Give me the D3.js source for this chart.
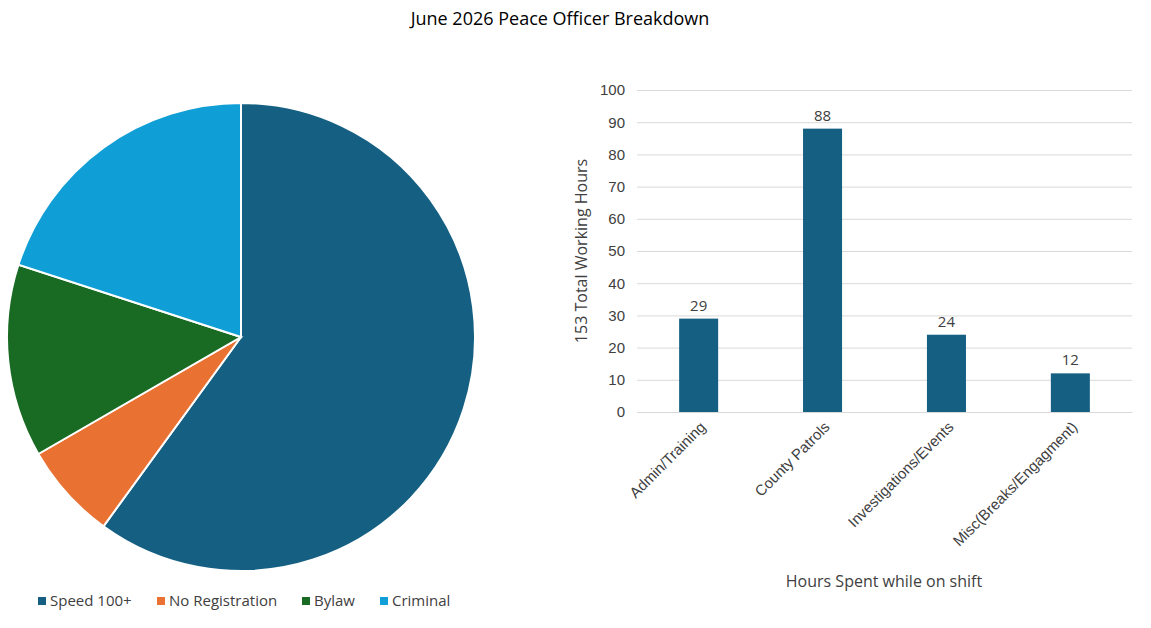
<!DOCTYPE html>
<html><head><meta charset="utf-8">
<script src="https://cdn.jsdelivr.net/npm/d3@7"></script>
<style>body{margin:0;background:#fff;font-family:Aptos,"Open Sans","Liberation Sans",sans-serif}</style>
</head><body><svg width="1151" height="628"></svg>
<script>
var pieCats = ["Speed 100+", "No Registration", "Bylaw", "Criminal"];
var pieVals = [27, 3, 6, 9];
var pieColors = ["#156082", "#E97132", "#196B24", "#0F9ED5"];

var barCats = ["Admin/Training", "County Patrols", "Investigations/Events", "Misc(Breaks/Engagment)"];
var barVals = [29, 88, 24, 12];
var yTicks = [0, 10, 20, 30, 40, 50, 60, 70, 80, 90, 100];

var svg = d3.select("svg");
var txt = "#404040";

svg.append("text").attr("x", 560).attr("y", 25).attr("text-anchor", "middle")
  .attr("font-size", 18).attr("fill", "#000").text("June 2026 Peace Officer Breakdown");

// pie
var pie = d3.pie().sort(null).value(function(d){return d;});
var arc = d3.arc().innerRadius(0).outerRadius(234);
var pg = svg.append("g").attr("transform", "translate(241,337)");
pg.selectAll("path").data(pie(pieVals)).enter().append("path")
  .attr("d", arc).attr("fill", function(d,i){return pieColors[i];})
  .attr("stroke", "#fff").attr("stroke-width", 2);

// legend
var lx = [38, 157, 302, 380];
var lg = svg.selectAll(".lg").data(pieCats).enter().append("g")
  .attr("transform", function(d,i){return "translate(" + lx[i] + ",601)";});
lg.append("rect").attr("x", 0).attr("y", -4).attr("width", 8).attr("height", 8)
  .attr("fill", function(d,i){return pieColors[i];});
lg.append("text").attr("x", 12).attr("y", 5).attr("font-size", 15).attr("fill", txt)
  .text(function(d){return d;});

// bars
var x = d3.scaleBand().domain(barCats).range([637, 1132]).paddingInner(0.685).paddingOuter(0.34);
var y = d3.scaleLinear().domain([0, 100]).range([412, 90]);

var yAxis = svg.append("g").attr("transform", "translate(637,0)")
  .call(d3.axisLeft(y).tickValues(yTicks).tickSize(-495).tickPadding(12));
yAxis.select(".domain").remove();
yAxis.selectAll("line").attr("stroke", "#d9d9d9");
yAxis.selectAll("text").attr("font-size", 15).attr("fill", txt).attr("font-family", "inherit");

svg.selectAll(".bar").data(barVals).enter().append("rect")
  .attr("x", function(d,i){return x(barCats[i]);})
  .attr("y", function(d){return y(d);})
  .attr("width", x.bandwidth())
  .attr("height", function(d){return y(0) - y(d);})
  .attr("fill", "#156082");

svg.selectAll(".lbl").data(barVals).enter().append("text")
  .attr("x", function(d,i){return x(barCats[i]) + x.bandwidth()/2;})
  .attr("y", function(d){return y(d) - 8;})
  .attr("text-anchor", "middle").attr("font-size", 15).attr("fill", txt)
  .text(function(d){return d;});

var xAxis = svg.append("g").attr("transform", "translate(0,412)")
  .call(d3.axisBottom(x).tickSize(0).tickPadding(0));
xAxis.select(".domain").attr("stroke", "#d9d9d9");
xAxis.selectAll("text").attr("font-size", 15).attr("fill", txt).attr("font-family", "inherit")
  .attr("text-anchor", "end").attr("dy", 0)
  .attr("transform", "translate(8,16) rotate(-45)");

svg.append("text").attr("x", 884).attr("y", 587).attr("text-anchor", "middle")
  .attr("font-size", 16).attr("fill", txt).text("Hours Spent while on shift");
svg.append("text").attr("transform", "translate(587,251) rotate(-90)").attr("text-anchor", "middle")
  .attr("font-size", 16).attr("fill", txt).text("153 Total Working Hours");
</script></body></html>
